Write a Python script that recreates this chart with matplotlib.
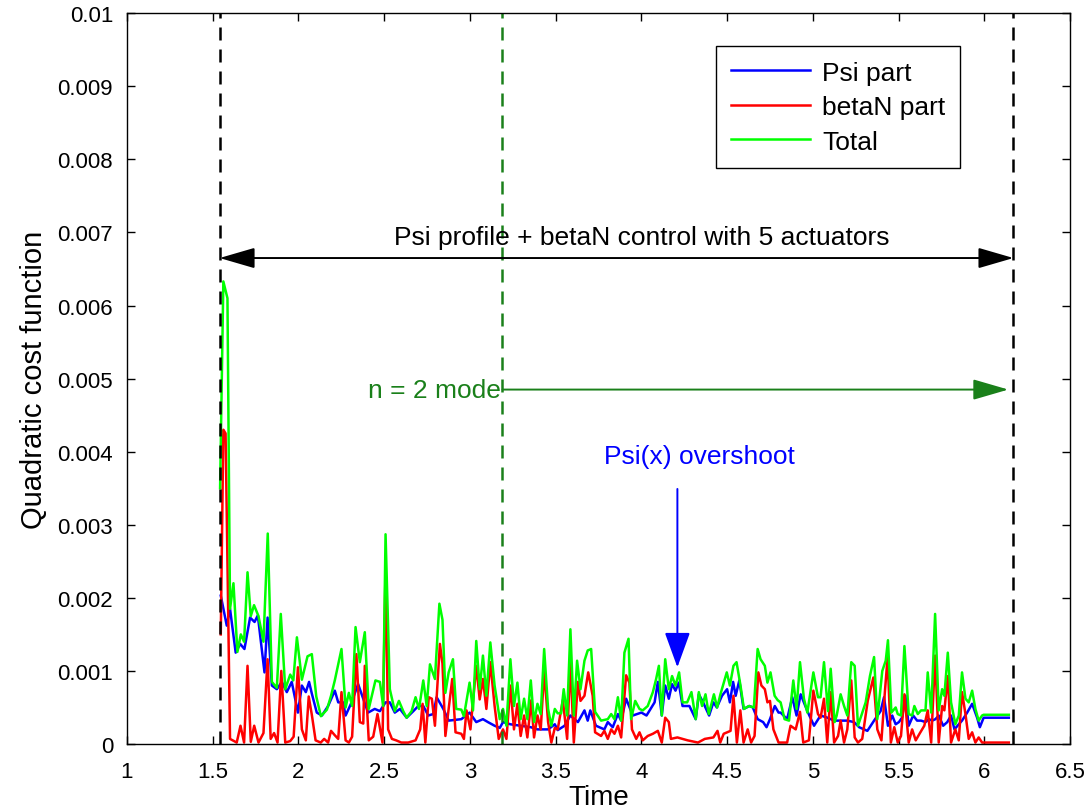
import matplotlib
matplotlib.use("Agg")
import matplotlib.pyplot as plt
import numpy as np

plt.rcParams['font.family'] = ['Liberation Sans', 'DejaVu Sans']

# values, in units of 1e-3
t_total = [1.543, 1.562, 1.586, 1.601, 1.621, 1.644, 1.664, 1.683, 1.703, 1.722, 1.741, 1.767, 1.796, 1.821,
           1.845, 1.874, 1.897, 1.923, 1.952, 1.970, 1.991, 2.020, 2.053, 2.078, 2.104, 2.131, 2.166, 2.190,
           2.212, 2.251, 2.275, 2.294, 2.313, 2.333, 2.358, 2.387, 2.410, 2.449, 2.475, 2.494, 2.508, 2.533,
           2.562, 2.586, 2.611, 2.631, 2.660, 2.683, 2.703, 2.728, 2.748, 2.767, 2.796, 2.822, 2.840, 2.857,
           2.876, 2.901, 2.920, 2.950, 2.965, 2.998, 3.018, 3.037, 3.057, 3.076, 3.096, 3.119, 3.144, 3.174,
           3.193, 3.213, 3.236, 3.257, 3.277, 3.296, 3.316, 3.335, 3.355, 3.374, 3.394, 3.413, 3.433, 3.456,
           3.475, 3.495, 3.512, 3.532, 3.547, 3.567, 3.586, 3.606, 3.625, 3.645, 3.668, 3.687, 3.707, 3.730,
           3.765, 3.804, 3.824, 3.843, 3.863, 3.882, 3.901, 3.925, 3.940, 3.964, 3.989, 4.008, 4.037, 4.067,
           4.086, 4.102, 4.119, 4.139, 4.160, 4.179, 4.199, 4.220, 4.240, 4.267, 4.292, 4.317, 4.335, 4.354,
           4.374, 4.393, 4.423, 4.442, 4.461, 4.498, 4.516, 4.537, 4.555, 4.578, 4.598, 4.627, 4.656, 4.678,
           4.695, 4.720, 4.735, 4.753, 4.777, 4.795, 4.812, 4.835, 4.861, 4.886, 4.905, 4.925, 4.948, 4.968,
           5.003, 5.030, 5.045, 5.065, 5.088, 5.104, 5.127, 5.139, 5.162, 5.182, 5.201, 5.224, 5.244, 5.263,
           5.283, 5.308, 5.333, 5.357, 5.376, 5.405, 5.425, 5.438, 5.458, 5.483, 5.495, 5.514, 5.534, 5.559,
           5.579, 5.592, 5.612, 5.631, 5.657, 5.670, 5.690, 5.713, 5.734, 5.754, 5.767, 5.787, 5.806, 5.831,
           5.851, 5.870, 5.890, 5.909, 5.929, 5.948, 5.967, 5.987, 5.996, 6.143]
total = [3.5, 6.33, 6.1, 1.85, 2.2, 1.26, 1.5, 1.4, 2.35, 1.75, 1.9, 1.75, 1.4, 2.88,
         0.85, 0.77, 1.78, 0.75, 0.95, 0.87, 1.46, 0.88, 1.2, 1.23, 0.65, 0.38, 0.47, 0.66,
         0.87, 1.3, 0.5, 0.7, 0.52, 1.6, 1.12, 1.53, 0.48, 0.87, 0.85, 0.52, 2.87, 0.75,
         0.45, 0.59, 0.45, 0.36, 0.45, 0.64, 0.48, 0.87, 0.52, 1.09, 0.89, 1.92, 1.7, 0.7,
         0.98, 1.16, 0.48, 0.47, 0.38, 0.84, 0.46, 1.41, 0.75, 1.21, 0.66, 1.39, 0.8, 0.34,
         0.48, 0.25, 1.16, 0.52, 0.84, 0.34, 0.62, 0.34, 0.87, 0.3, 0.55, 0.41, 1.3, 0.48,
         0.25, 0.48, 0.42, 0.42, 0.75, 0.39, 1.57, 0.39, 1.14, 0.75, 1.14, 1.28, 1.3, 0.44,
         0.32, 0.34, 0.41, 0.34, 0.64, 0.32, 1.25, 1.44, 0.34, 0.59, 0.48, 0.46, 0.52, 0.71,
         0.89, 1.07, 0.39, 1.16, 0.75, 0.93, 0.8, 0.98, 0.57, 0.57, 0.71, 0.34, 0.71, 0.52,
         0.68, 0.41, 0.68, 0.5, 0.68, 0.98, 0.8, 1.07, 1.12, 0.8, 0.48, 0.52, 0.5, 1.3,
         1.16, 1.07, 0.84, 0.98, 0.66, 0.6, 0.57, 0.34, 0.32, 0.87, 0.48, 1.12, 0.62, 0.43,
         0.98, 0.64, 0.64, 1.12, 0.45, 1.03, 0.30, 0.39, 0.68, 0.52, 0.39, 1.12, 1.07, 0.25,
         0.39, 0.57, 0.93, 1.19, 0.34, 1.0, 1.14, 1.42, 0.43, 0.5, 0.41, 0.39, 1.34, 0.41,
         0.39, 0.52, 0.41, 0.46, 0.46, 0.98, 0.43, 1.78, 0.46, 0.75, 0.66, 1.25, 0.57, 0.27,
         0.39, 0.98, 0.62, 0.57, 0.73, 0.48, 0.32, 0.39, 0.40, 0.40]

t_psi = [1.547, 1.582, 1.601, 1.634, 1.660, 1.685, 1.718, 1.744, 1.763, 1.802, 1.820, 1.845, 1.874, 1.903,
         1.932, 1.961, 1.997, 2.020, 2.043, 2.062, 2.078, 2.107, 2.137, 2.173, 2.212, 2.232, 2.260, 2.275,
         2.310, 2.348, 2.378, 2.406, 2.445, 2.475, 2.508, 2.533, 2.562, 2.592, 2.631, 2.670, 2.699, 2.728,
         2.757, 2.786, 2.806, 2.845, 2.876, 2.950, 2.998, 3.037, 3.076, 3.105, 3.144, 3.174, 3.193, 3.236,
         3.296, 3.355, 3.394, 3.456, 3.495, 3.512, 3.552, 3.586, 3.630, 3.668, 3.687, 3.702, 3.735, 3.784,
         3.804, 3.833, 3.863, 3.882, 3.911, 3.950, 4.000, 4.030, 4.077, 4.096, 4.119, 4.139, 4.160, 4.179,
         4.199, 4.218, 4.240, 4.280, 4.317, 4.335, 4.360, 4.395, 4.420, 4.440, 4.470, 4.500, 4.516, 4.535,
         4.550, 4.571, 4.596, 4.630, 4.650, 4.678, 4.710, 4.730, 4.750, 4.778, 4.800, 4.812, 4.850, 4.880,
         4.905, 4.929, 4.968, 5.007, 5.045, 5.085, 5.124, 5.162, 5.201, 5.240, 5.270, 5.318, 5.357, 5.395,
         5.415, 5.438, 5.463, 5.483, 5.502, 5.520, 5.540, 5.559, 5.585, 5.608, 5.631, 5.657, 5.677, 5.696,
         5.715, 5.734, 5.760, 5.784, 5.806, 5.826, 5.851, 5.870, 5.900, 5.929, 5.958, 5.974, 5.996, 6.143]
psi_part = [2.03, 1.62, 1.85, 1.25, 1.37, 1.30, 1.73, 1.67, 1.76, 0.98, 1.73, 0.80, 0.75, 0.85,
            0.71, 0.85, 0.43, 0.80, 0.71, 0.85, 0.69, 0.43, 0.39, 0.52, 0.73, 0.57, 0.57, 0.39,
            0.57, 0.82, 0.62, 0.43, 0.48, 0.45, 0.57, 0.57, 0.43, 0.48, 0.36, 0.45, 0.52, 0.52,
            0.39, 0.41, 0.64, 0.48, 0.32, 0.34, 0.43, 0.30, 0.34, 0.30, 0.25, 0.22, 0.30, 0.27,
            0.25, 0.23, 0.20, 0.20, 0.27, 0.19, 0.25, 0.39, 0.30, 0.46, 0.32, 0.46, 0.25, 0.20,
            0.30, 0.23, 0.41, 0.32, 0.62, 0.39, 0.43, 0.39, 0.57, 0.85, 0.39, 0.80, 0.62, 0.82,
            0.73, 0.84, 0.52, 0.52, 0.34, 0.68, 0.57, 0.39, 0.57, 0.50, 0.66, 0.75, 0.57, 0.85,
            0.66, 0.87, 0.48, 0.52, 0.50, 0.34, 0.30, 0.23, 0.34, 0.52, 0.43, 0.43, 0.34, 0.64,
            0.39, 0.68, 0.45, 0.25, 0.39, 0.36, 0.32, 0.32, 0.32, 0.30, 0.23, 0.18, 0.32, 0.45,
            0.64, 0.25, 0.39, 0.27, 0.30, 0.36, 0.66, 0.25, 0.39, 0.32, 0.32, 0.30, 0.34, 0.32,
            0.34, 0.39, 0.25, 0.30, 0.39, 0.20, 0.27, 0.32, 0.43, 0.55, 0.36, 0.23, 0.36, 0.36]

t_beta = [1.547, 1.562, 1.575, 1.601, 1.640, 1.662, 1.683, 1.703, 1.722, 1.742, 1.767, 1.796, 1.820, 1.838,
          1.858, 1.878, 1.900, 1.923, 1.952, 1.972, 1.997, 2.020, 2.043, 2.060, 2.078, 2.100, 2.130, 2.150,
          2.173, 2.190, 2.212, 2.232, 2.251, 2.275, 2.294, 2.313, 2.338, 2.358, 2.378, 2.387, 2.410, 2.436,
          2.461, 2.490, 2.508, 2.523, 2.545, 2.570, 2.600, 2.640, 2.683, 2.710, 2.724, 2.740, 2.760, 2.778,
          2.796, 2.825, 2.840, 2.857, 2.876, 2.897, 2.916, 2.950, 2.965, 2.980, 3.003, 3.037, 3.057, 3.076,
          3.096, 3.119, 3.144, 3.168, 3.193, 3.213, 3.236, 3.257, 3.277, 3.296, 3.316, 3.335, 3.358, 3.374,
          3.394, 3.413, 3.433, 3.456, 3.475, 3.495, 3.512, 3.542, 3.567, 3.586, 3.606, 3.630, 3.645, 3.668,
          3.690, 3.716, 3.730, 3.765, 3.784, 3.804, 3.824, 3.843, 3.863, 3.882, 3.911, 3.930, 3.945, 3.970,
          3.989, 4.008, 4.037, 4.067, 4.096, 4.119, 4.139, 4.160, 4.172, 4.210, 4.270, 4.330, 4.370, 4.420,
          4.444, 4.460, 4.480, 4.520, 4.537, 4.557, 4.577, 4.596, 4.620, 4.640, 4.660, 4.682, 4.700, 4.720,
          4.735, 4.750, 4.770, 4.800, 4.850, 4.870, 4.900, 4.925, 4.944, 4.977, 5.003, 5.030, 5.045, 5.065,
          5.084, 5.104, 5.124, 5.147, 5.162, 5.182, 5.201, 5.224, 5.244, 5.263, 5.288, 5.320, 5.353, 5.376,
          5.400, 5.420, 5.436, 5.455, 5.475, 5.495, 5.514, 5.534, 5.559, 5.579, 5.600, 5.622, 5.650, 5.670,
          5.690, 5.713, 5.734, 5.754, 5.767, 5.787, 5.806, 5.831, 5.851, 5.870, 5.890, 5.909, 5.929, 5.948,
          5.967, 5.987, 6.143]
betaN_part = [1.5, 4.3, 4.25, 0.07, 0.02, 0.25, 0.02, 1.07, 0.03, 0.25, 0.02, 0.15, 1.16, 0.07,
              0.15, 0.02, 1.0, 0.02, 0.04, 0.1, 1.05, 0.2, 0.05, 0.65, 0.4, 0.05, 0.02, 0.07,
              0.02, 0.18, 0.12, 0.07, 0.71, 0.05, 0.02, 0.1, 1.23, 0.3, 0.28, 1.07, 0.05, 0.1,
              0.41, 0.02, 2.4, 0.2, 0.07, 0.05, 0.02, 0.02, 0.05, 0.2, 0.55, 0.02, 0.64, 0.62,
              0.25, 1.37, 1.1, 0.11, 0.48, 0.89, 0.16, 0.14, 0.07, 0.46, 0.20, 1.07, 0.61, 0.89,
              0.48, 1.12, 0.52, 0.07, 0.2, 0.07, 0.8, 0.2, 0.55, 0.11, 0.39, 0.09, 0.6, 0.09,
              0.39, 0.2, 1.0, 0.3, 0.02, 0.22, 0.2, 0.6, 0.07, 1.12, 0.02, 0.85, 0.59, 0.66,
              0.98, 0.66, 0.16, 0.11, 0.18, 0.07, 0.2, 0.14, 0.25, 0.09, 0.94, 0.84, 0.2, 0.07,
              0.16, 0.05, 0.11, 0.14, 0.18, 0.02, 0.36, 0.30, 0.07, 0.09, 0.05, 0.02, 0.07, 0.09,
              0.18, 0.02, 0.14, 0.18, 0.66, 0.02, 0.46, 0.02, 0.2, 0.02, 0.11, 0.98, 0.80, 0.75,
              0.57, 0.59, 0.2, 0.02, 0.02, 0.25, 0.2, 0.44, 0.02, 0.05, 0.73, 0.41, 0.36, 0.62,
              0.02, 0.71, 0.02, 0.11, 0.32, 0.02, 0.2, 0.87, 0.09, 0.02, 0.07, 0.59, 0.91, 0.2,
              0.05, 0.71, 1.19, 0.02, 0.23, 0.02, 0.11, 0.68, 0.02, 0.2, 0.05, 0.14, 0.25, 0.46,
              0.02, 1.21, 0.02, 0.52, 0.46, 0.93, 0.02, 0.2, 0.05, 0.71, 0.41, 0.07, 0.16, 0.02,
              0.09, 0.02, 0.02]

scale = 1e-3
t_start, t_mode, t_end = 1.54, 3.19, 6.17

fig = plt.figure(figsize=(10.89, 8.12), dpi=100)
ax = fig.add_axes([0.1166, 0.0825, 0.866, 0.900])

ax.plot(t_psi, np.array(psi_part) * scale, color='b', lw=1.8, label='Psi part')
ax.plot(t_beta, np.array(betaN_part) * scale, color='r', lw=1.8, label='betaN part')
ax.plot(t_total, np.array(total) * scale, color=(0, 1, 0), lw=1.8, label='Total')

dgreen = '#1a801a'
dash = (0, (5.2, 3.6))
ax.axvline(t_start, color='k', ls=dash, lw=1.8)
ax.axvline(t_end, color='k', ls=dash, lw=1.8)
ax.axvline(t_mode, color=dgreen, ls=dash, lw=1.8)

# control window
ax.annotate('', xy=(t_end, 0.00665), xytext=(t_start, 0.00665),
            arrowprops=dict(arrowstyle='<|-|>,head_length=1.1,head_width=0.32', color='k',
                            lw=1.4, shrinkA=0, shrinkB=0, mutation_scale=20))
ax.text(4.0, 0.00694, 'Psi profile + betaN control with 5 actuators', ha='center', va='center',
        fontsize=19)

# n = 2 mode
ax.annotate('', xy=(6.14, 0.00485), xytext=(t_mode, 0.00485),
            arrowprops=dict(arrowstyle='-|>,head_length=1.1,head_width=0.32', color=dgreen,
                            lw=1.4, shrinkA=0, shrinkB=0, mutation_scale=20))
ax.text(3.18, 0.00484, 'n = 2 mode', ha='right', va='center', fontsize=19, color=dgreen)

# overshoot
ax.annotate('', xy=(4.21, 0.00105), xytext=(4.21, 0.00349),
            arrowprops=dict(arrowstyle='-|>,head_length=1.1,head_width=0.4', color='b',
                            lw=1.4, shrinkA=0, shrinkB=0, mutation_scale=20))
ax.text(4.34, 0.00394, 'Psi(x) overshoot', ha='center', va='center', fontsize=19, color='b')

ax.set_xlim(1, 6.5)
ax.set_ylim(0, 0.01)
ax.set_xticks(np.arange(1, 6.51, 0.5))
ax.set_xticklabels(['1', '1.5', '2', '2.5', '3', '3.5', '4', '4.5', '5', '5.5', '6', '6.5'])
ax.set_yticks(np.arange(0, 0.01001, 0.001))
ax.set_yticklabels(['0', '0.001', '0.002', '0.003', '0.004', '0.005', '0.006', '0.007',
                    '0.008', '0.009', '0.01'])
ax.tick_params(direction='in', top=True, right=True, length=6, width=1, labelsize=16)
ax.tick_params(axis='y', pad=10)
ax.tick_params(axis='x', pad=12)
for s in ax.spines.values():
    s.set_linewidth(1.0)

ax.set_xlabel('Time', fontsize=20, labelpad=2)
ax.set_ylabel('Quadratic cost function', fontsize=21, labelpad=7)

leg = ax.legend(loc='upper right', bbox_to_anchor=(0.883, 0.955), borderaxespad=0, fontsize=19,
                fancybox=False, edgecolor='k', framealpha=1, handlelength=3.0, borderpad=0.55,
                labelspacing=0.4, handletextpad=0.45)
leg.get_frame().set_linewidth(1.0)

fig.savefig('out.png', dpi=100)
